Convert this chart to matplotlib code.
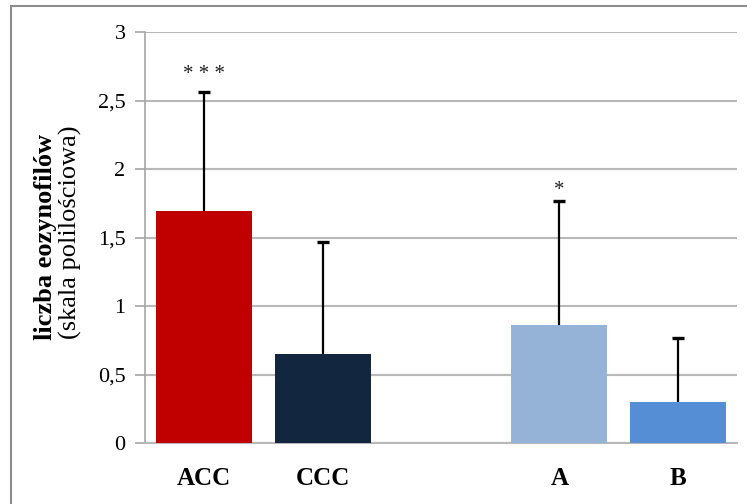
import matplotlib
matplotlib.use("Agg")
import matplotlib.pyplot as plt
from matplotlib.patches import Rectangle
import numpy as np

# data
categories = ["ACC", "CCC", "", "A", "B"]
values = [1.69, 0.65, 0.0, 0.86, 0.30]
err_top = [2.56, 1.47, 0.0, 1.77, 0.77]
colors = ["#C00000", "#13263F", "none", "#95B3D7", "#558ED5"]
stars = {0: "* * *", 3: "*"}
star_y = {0: 2.71, 3: 1.86}
y_ticks = [0, 0.5, 1, 1.5, 2, 2.5, 3]
y_tick_labels = ["0", "0,5", "1", "1,5", "2", "2,5", "3"]

plt.rcParams["font.family"] = ["Liberation Serif", "DejaVu Serif"]

fig = plt.figure(figsize=(7.47, 5.04), dpi=100)
fig.patch.set_facecolor("white")

# outer chart frame (Excel style)
fig.patches.append(Rectangle((11 / 747, -0.05), 1.2, 1 - 6 / 504 + 0.05,
                             transform=fig.transFigure, fill=False,
                             edgecolor="#8C8C8C", linewidth=1.5))

ax = fig.add_axes([145 / 747, 1 - 443 / 504, (737 - 145) / 747, (443 - 32) / 504])

x = np.arange(len(categories))
for i in range(len(categories)):
    if colors[i] == "none":
        continue
    ax.bar(x[i], values[i], width=0.81, color=colors[i], zorder=3)
    # upper-only error bar with a single cap
    ax.vlines(x[i], values[i], err_top[i], color="black", linewidth=1.6, zorder=4)
    ax.plot(x[i], err_top[i], marker="_", markersize=9, markeredgewidth=2.4,
            color="black", zorder=4)

for i, s in stars.items():
    ax.text(x[i], star_y[i], s, ha="center", va="center_baseline",
            fontsize=15, color="#222222")

ax.set_xlim(-0.5, len(categories) - 0.5)
ax.set_ylim(0, 3)
ax.set_yticks(y_ticks)
ax.set_yticklabels(y_tick_labels, fontsize=16)
ax.set_xticks([i for i in x if categories[i]])
ax.set_xticklabels([c for c in categories if c], fontsize=18, fontweight="bold")
ax.tick_params(axis="x", length=0, pad=17)
ax.tick_params(axis="y", length=7, width=1.2, color="#A6A6A6", pad=7)

ax.grid(axis="y", color="#B8B8B8", linewidth=1.5, zorder=0)
ax.set_axisbelow(True)
for side in ["top", "right"]:
    ax.spines[side].set_visible(False)
ax.spines["left"].set_color("#A6A6A6")
ax.spines["left"].set_linewidth(1.2)
ax.spines["bottom"].set_color("#B8B8B8")
ax.spines["bottom"].set_linewidth(1.5)

fig.text(46 / 747, 1 - 237 / 504, "liczba eozynofilów", rotation=90,
         ha="center", va="center", fontsize=19, fontweight="bold")
fig.text(70 / 747, 1 - 232 / 504, "(skala polilościowa)", rotation=90,
         ha="center", va="center", fontsize=19)

fig.savefig("out.png", dpi=100, facecolor="white")
